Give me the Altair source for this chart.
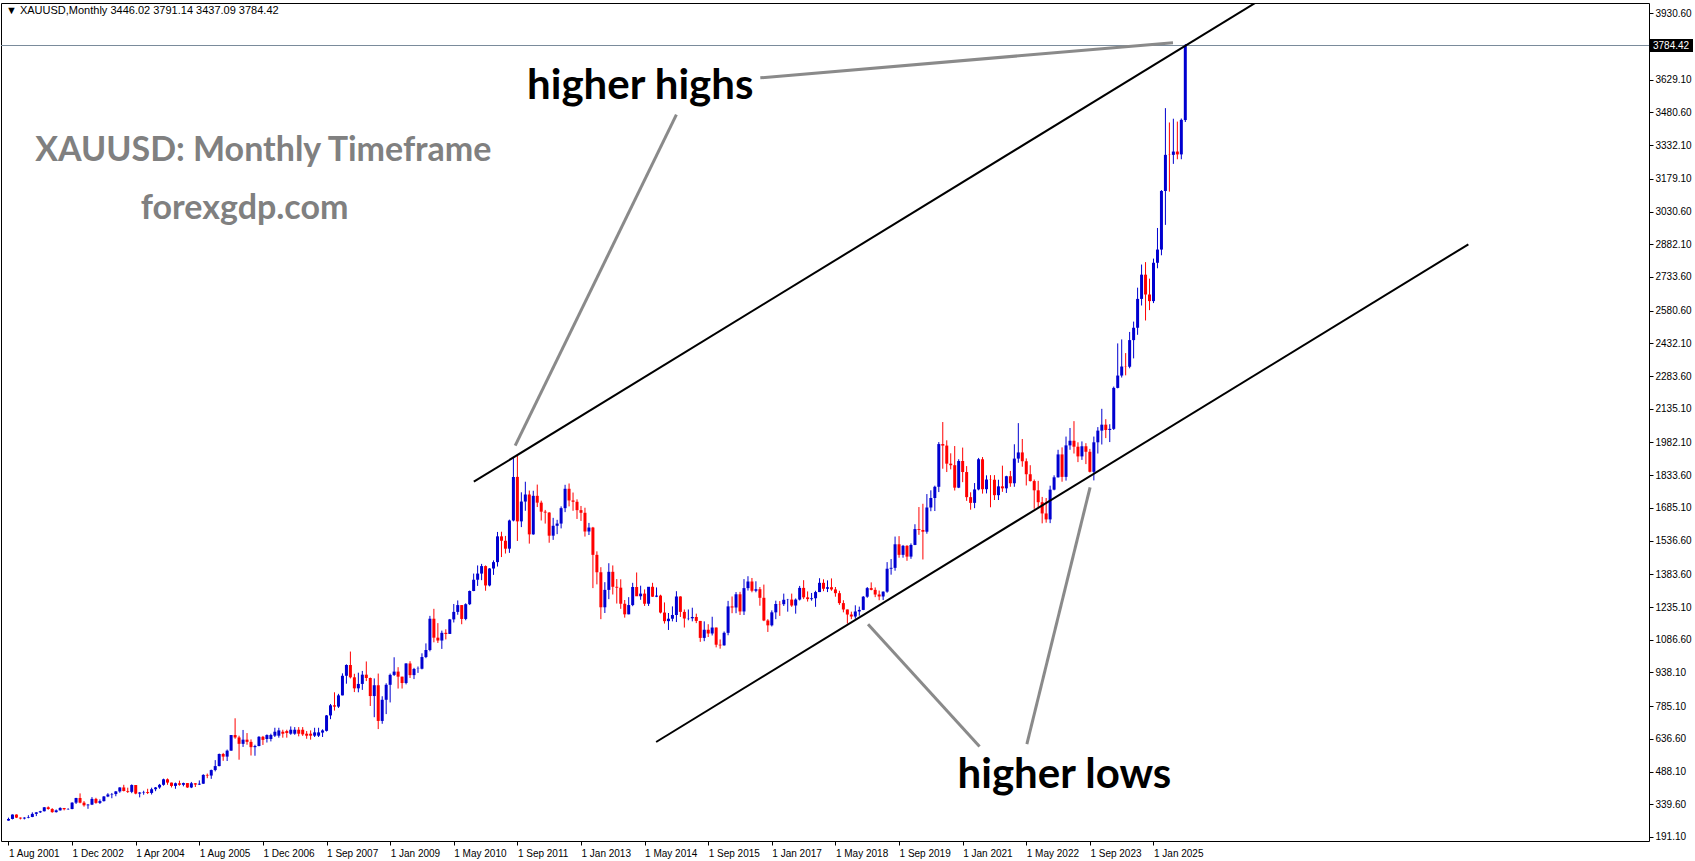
import altair as alt
import pandas as pd

# ---------------- data (monthly XAUUSD bars, bar index 0 = Aug 2001) ----------------
opens = [
    265.5, 273, 293, 279, 275,
    279, 282, 296, 303, 308, 326, 318, 304, 312, 323, 317, 318,
    347, 368, 347, 335, 338, 364, 346, 354, 375, 384, 386, 398,
    416, 400, 396, 427, 388, 393, 395, 391, 408, 416, 428, 453,
    438, 423, 435, 428, 436, 416, 435, 429, 433, 473, 470, 495,
    513, 568, 556, 583, 654, 643, 614, 633, 623, 599, 604, 646,
    636, 636, 651, 651, 669, 672, 660, 660, 678, 678, 660, 660, 651, 651, 665,
    673, 743, 789, 783,
    834, 923, 972, 916, 866, 886, 928, 913, 831, 880, 718, 814,
    882, 927, 942, 919, 890, 979, 926, 954, 955, 1008, 1040, 1182,
    1096, 1083, 1118, 1113, 1179, 1213, 1244, 1181, 1248, 1308, 1359, 1387,
    1421, 1333, 1410, 1439, 1556, 1536, 1500, 1628, 1826, 1624, 1714, 1746,
    1565, 1740, 1709, 1668, 1664, 1559, 1604, 1614, 1684, 1772, 1719, 1713,
    1675, 1663, 1578, 1596, 1472, 1393, 1234, 1313, 1395, 1327, 1323, 1250,
    1202, 1244, 1326, 1284, 1296, 1250, 1327, 1282, 1287, 1210, 1171, 1182,
    1199, 1283, 1213, 1183, 1184, 1190, 1172, 1095, 1132, 1115, 1142, 1064,
    1061, 1118, 1238, 1233, 1293, 1215, 1321, 1351, 1309, 1316, 1277, 1174,
    1152, 1211, 1249, 1248, 1268, 1269, 1242, 1269, 1322, 1279, 1271, 1275,
    1303, 1345, 1318, 1325, 1315, 1298, 1253, 1224, 1201, 1192, 1215, 1222,
    1282, 1321, 1313, 1292, 1283, 1305, 1409, 1413, 1520, 1472, 1513, 1464,
    1517, 1589, 1585, 1577, 1687, 1730, 1781, 1975, 1968, 1886, 1879, 1777,
    1898, 1848, 1734, 1708, 1769, 1906, 1770, 1814, 1813, 1743, 1783, 1774,
    1829, 1797, 1909, 1937, 1897, 1838, 1807, 1765, 1711, 1660, 1633, 1768,
    1824, 1928, 1826, 1969, 1990, 1963, 1919, 1965, 1940, 1849, 1983, 2036,
    2063, 2039, 2044, 2230, 2286, 2327, 2326, 2447, 2503, 2634, 2744, 2654,
    2624, 2798, 2858, 3124, 3289, 3288, 3303, 3290, 3446.02,
]
highs = [
    279, 293.5, 294, 280, 281,
    290, 303, 304, 310, 327, 330, 322, 316, 326, 323, 322, 349,
    369, 389, 354, 341, 372, 369, 362, 377, 390, 391, 400, 417,
    428, 415, 430, 427, 395, 401, 410, 415, 418, 432, 456, 457,
    438, 438, 447, 438, 436, 441, 436, 448, 476, 479, 497, 540,
    570, 573, 588, 654, 730, 651, 677, 663, 634, 610, 649, 650,
    657, 660, 687, 687, 678, 678, 693, 690, 690, 690, 672, 675, 687, 687, 680,
    745, 795, 848, 841,
    934, 975, 1033, 932, 937, 945, 988, 915, 911, 933, 830, 889,
    933, 1007, 962, 919, 980, 989, 959, 965, 1025, 1070, 1195, 1227,
    1162, 1128, 1134, 1181, 1249, 1265, 1244, 1252, 1310, 1387, 1424, 1431,
    1424, 1412, 1447, 1576, 1577, 1558, 1632, 1912, 1921, 1756, 1804, 1764,
    1763, 1791, 1718, 1676, 1666, 1640, 1631, 1692, 1790, 1796, 1755, 1724,
    1694, 1686, 1617, 1599, 1488, 1416, 1348, 1434, 1424, 1362, 1361, 1267,
    1280, 1345, 1392, 1332, 1315, 1326, 1345, 1324, 1291, 1256, 1208, 1238,
    1307, 1284, 1224, 1224, 1232, 1205, 1172, 1170, 1157, 1191, 1142, 1088,
    1124, 1263, 1283, 1303, 1304, 1362, 1375, 1367, 1352, 1326, 1337, 1180,
    1220, 1264, 1262, 1296, 1272, 1296, 1274, 1331, 1357, 1306, 1299, 1309,
    1366, 1361, 1356, 1365, 1326, 1309, 1266, 1224, 1214, 1243, 1237, 1285,
    1326, 1347, 1324, 1310, 1306, 1439, 1453, 1555, 1557, 1517, 1516, 1524,
    1611, 1689, 1704, 1748, 1765, 1786, 1984, 2075, 1992, 1933, 1966, 1906,
    1959, 1875, 1756, 1798, 1912, 1916, 1833, 1834, 1834, 1813, 1877, 1831,
    1853, 1974, 2070, 1998, 1910, 1879, 1814, 1808, 1735, 1730, 1786, 1833,
    1949, 1960, 2009, 2048, 2079, 1983, 1987, 1979, 1953, 2009, 2052, 2135,
    2088, 2065, 2236, 2432, 2450, 2388, 2484, 2531, 2685, 2790, 2801, 2726,
    2817, 2956, 3128, 3500, 3435, 3452, 3439, 3453, 3791.14,
]
lows = [
    265, 271, 277, 271, 271,
    276, 281, 286, 300, 307, 315, 301, 302, 311, 312, 314, 317,
    341, 344, 329, 319, 336, 342, 341, 352, 372, 367, 376, 392,
    398, 391, 390, 385, 371, 383, 386, 384, 399, 410, 424, 428,
    416, 410, 424, 421, 414, 413, 418, 427, 432, 458, 455, 489,
    512, 537, 536, 583, 637, 542, 600, 610, 561, 560, 603, 609,
    620, 625, 645, 642, 642, 642, 655, 655, 648, 650, 637, 633, 645, 645, 645,
    670, 726, 765, 777,
    834, 887, 911, 849, 848, 859, 899, 786, 735, 681, 705, 749,
    802, 922, 865, 865, 884, 913, 908, 936, 952, 1003, 1034, 1075,
    1072, 1045, 1088, 1113, 1165, 1200, 1157, 1175, 1244, 1307, 1331, 1357,
    1309, 1329, 1381, 1419, 1462, 1478, 1481, 1624, 1535, 1598, 1672, 1523,
    1563, 1689, 1628, 1614, 1527, 1540, 1566, 1592, 1666, 1692, 1672, 1635,
    1626, 1555, 1562, 1321, 1338, 1180, 1208, 1271, 1292, 1251, 1227, 1187,
    1202, 1239, 1285, 1268, 1240, 1240, 1281, 1280, 1206, 1160, 1131, 1170,
    1167, 1190, 1142, 1175, 1170, 1162, 1077, 1080, 1099, 1106, 1052, 1046,
    1060, 1107, 1207, 1207, 1199, 1199, 1310, 1302, 1302, 1241, 1171, 1122,
    1147, 1180, 1195, 1240, 1214, 1236, 1205, 1265, 1271, 1260, 1264, 1236,
    1303, 1307, 1303, 1309, 1282, 1245, 1211, 1160, 1180, 1182, 1196, 1221,
    1277, 1311, 1280, 1266, 1267, 1300, 1382, 1400, 1459, 1459, 1445, 1454,
    1516, 1563, 1451, 1568, 1670, 1671, 1757, 1863, 1848, 1860, 1764, 1775,
    1802, 1717, 1677, 1684, 1765, 1750, 1751, 1688, 1721, 1721, 1758, 1753,
    1781, 1781, 1890, 1872, 1787, 1805, 1681, 1688, 1615, 1618, 1616, 1765,
    1823, 1804, 1809, 1949, 1932, 1893, 1903, 1884, 1846, 1810, 1932, 1973,
    2002, 1984, 2039, 2228, 2277, 2287, 2319, 2364, 2471, 2604, 2536, 2583,
    2615, 2773, 2832, 2970, 3121, 3247, 3268, 3268, 3437.09,
]
closes = [
    273, 293, 279, 275, 279,
    282, 296, 303, 308, 326, 318, 304, 312, 323, 317, 318, 347,
    368, 347, 335, 338, 364, 346, 354, 375, 384, 386, 398, 416,
    400, 396, 427, 388, 393, 395, 391, 408, 416, 428, 453, 438,
    423, 435, 428, 436, 416, 435, 429, 433, 473, 470, 495, 513,
    568, 556, 583, 654, 643, 614, 633, 623, 599, 604, 646, 632,
    654, 654, 669, 675, 660, 663, 678, 678, 660, 657, 651, 651, 666, 666, 675,
    743, 789, 783, 834,
    923, 972, 916, 866, 886, 928, 913, 831, 880, 718, 814, 882,
    927, 942, 919, 890, 979, 926, 954, 955, 1008, 1040, 1182, 1096,
    1083, 1118, 1113, 1179, 1213, 1244, 1181, 1248, 1308, 1359, 1387, 1421,
    1333, 1410, 1439, 1556, 1536, 1500, 1628, 1826, 1624, 1714, 1746, 1565,
    1740, 1709, 1668, 1664, 1559, 1604, 1614, 1684, 1772, 1719, 1713, 1675,
    1663, 1578, 1596, 1472, 1393, 1234, 1313, 1395, 1327, 1323, 1250, 1202,
    1244, 1326, 1284, 1296, 1250, 1327, 1282, 1287, 1210, 1171, 1182, 1199,
    1283, 1213, 1183, 1184, 1190, 1172, 1095, 1132, 1115, 1142, 1064, 1061,
    1118, 1238, 1233, 1293, 1215, 1321, 1351, 1309, 1316, 1277, 1174, 1152,
    1211, 1249, 1248, 1268, 1269, 1242, 1269, 1322, 1279, 1271, 1275, 1303,
    1345, 1318, 1325, 1315, 1298, 1253, 1224, 1201, 1192, 1215, 1222, 1282,
    1321, 1313, 1292, 1283, 1305, 1409, 1413, 1520, 1472, 1513, 1464, 1517,
    1589, 1585, 1577, 1687, 1730, 1781, 1975, 1968, 1886, 1879, 1777, 1898,
    1848, 1734, 1708, 1769, 1906, 1770, 1814, 1813, 1743, 1783, 1774, 1829,
    1797, 1909, 1937, 1897, 1838, 1807, 1765, 1711, 1660, 1633, 1768, 1824,
    1928, 1826, 1969, 1990, 1963, 1919, 1965, 1940, 1849, 1983, 2036, 2063,
    2039, 2044, 2230, 2286, 2327, 2326, 2447, 2503, 2634, 2744, 2654, 2624,
    2798, 2858, 3124, 3288, 3288, 3303, 3290, 3447, 3784.42,
]

x_tick_labels = [
    "1 Aug 2001", "1 Dec 2002", "1 Apr 2004", "1 Aug 2005", "1 Dec 2006",
    "1 Sep 2007", "1 Jan 2009", "1 May 2010", "1 Sep 2011", "1 Jan 2013",
    "1 May 2014", "1 Sep 2015", "1 Jan 2017", "1 May 2018", "1 Sep 2019",
    "1 Jan 2021", "1 May 2022", "1 Sep 2023", "1 Jan 2025",
]
x_tick_bars = [16 * k for k in range(len(x_tick_labels))]
y_tick_values = [
    3930.60, 3629.10, 3480.60, 3332.10, 3179.10, 3030.60, 2882.10, 2733.60,
    2580.60, 2432.10, 2283.60, 2135.10, 1982.10, 1833.60, 1685.10, 1536.60,
    1383.60, 1235.10, 1086.60, 938.10, 785.10, 636.60, 488.10, 339.60, 191.10,
]

last_price = 3784.42
header = "\u25BC XAUUSD,Monthly  3446.02 3791.14 3437.09 3784.42"

# channel lines (bar index, price)
channel_start_bar = [117.05, 162.9]
channel_start_price = [1804.0, 622.4]
channel_end_bar = [320.0, 367.2]
channel_end_price = [4048.6, 2881.9]

# gray pointer lines (bar index, price)
ptr_start_bar = [168.0, 189.1, 216.2, 272.05]
ptr_start_price = [3470.7, 3637.8, 1156.7, 1778.7]
ptr_end_bar = [127.45, 292.9, 244.25, 256.15]
ptr_end_price = [1967.5, 3797.2, 602.3, 612.3]

# annotations
ann_text = ["higher highs", "higher lows", "XAUUSD: Monthly Timeframe", "forexgdp.com"]
ann_bar = [158.9, 265.6, 64.1, 59.4]
ann_price = [3541.6, 415.7, 3260.0, 2997.0]
ann_color = ["black", "black", "gray", "gray"]

# ---------------- build tables ----------------
n = len(closes)
candles = pd.DataFrame({
    "bar": list(range(n)),
    "open": opens, "high": highs, "low": lows, "close": closes,
})
candles["dir"] = ["up" if c >= o else "down" for o, c in zip(opens, closes)]

channels = pd.DataFrame({"bar": channel_start_bar, "price": channel_start_price,
                         "bar2": channel_end_bar, "price2": channel_end_price})
pointers = pd.DataFrame({"bar": ptr_start_bar, "price": ptr_start_price,
                         "bar2": ptr_end_bar, "price2": ptr_end_price})
ann = pd.DataFrame({"text": ann_text, "bar": ann_bar, "price": ann_price, "c": ann_color})
last_df = pd.DataFrame({"price": [last_price], "label": [f"{last_price:.2f}"]})
header_df = pd.DataFrame({"text": [header]})

# ---------------- scales / axes ----------------
PW, PH = 1648, 838
X_DOMAIN = [-0.625, -0.625 + PW / 4.0]
Y_DOMAIN = [172.9, 3977.4]
AXFONT = "Liberation Sans"

label_js = "[" + ",".join("'" + s + "'" for s in x_tick_labels) + "]"
x_axis = alt.Axis(values=x_tick_bars, labelExpr=label_js + "[round(datum.value/16)]",
                  grid=False, domain=False, tickSize=4, tickColor="black",
                  labelAlign="left", labelBaseline="top", labelPadding=3,
                  labelFont=AXFONT, labelFontSize=10, labelColor="black",
                  labelOverlap=False, labelBound=False, labelFlush=False, title=None)
y_axis = alt.Axis(values=y_tick_values, format=".2f", orient="right", grid=False,
                  domain=False, tickSize=4, tickColor="black", labelPadding=2,
                  labelFont=AXFONT, labelFontSize=10, labelColor="black",
                  labelOverlap=False, labelBound=False, labelFlush=False, title=None)
xs = alt.Scale(domain=X_DOMAIN, nice=False, zero=False)
ys = alt.Scale(domain=Y_DOMAIN, nice=False, zero=False)


def X(f):
    return alt.X(f"{f}:Q", scale=xs, axis=x_axis)


def Y(f):
    return alt.Y(f"{f}:Q", scale=ys, axis=y_axis)


color = alt.Color("dir:N", scale=alt.Scale(domain=["up", "down"], range=["#0000d0", "#ff0000"]),
                  legend=None)

base = alt.Chart(candles)
wicks = base.mark_rule(strokeWidth=1).encode(x=X("bar"), y=Y("low"), y2="high", color=color)
bodies = base.mark_bar(size=3).encode(x=X("bar"), y=Y("open"), y2="close", color=color)

price_line = alt.Chart(last_df).mark_rule(color="#7a8b9b", strokeWidth=1).encode(y=Y("price"))

chan = alt.Chart(channels).mark_rule(color="black", strokeWidth=2, clip=True).encode(
    x=X("bar"), y=Y("price"), x2="bar2", y2="price2")
ptr = alt.Chart(pointers).mark_rule(color="#8a8a8a", strokeWidth=3, clip=True).encode(
    x=X("bar"), y=Y("price"), x2="bar2", y2="price2")

ann_big = alt.Chart(ann).transform_filter("datum.c == 'black'").mark_text(
    font="Lato", fontWeight="bold", fontSize=42, align="center", baseline="alphabetic", color="black"
).encode(x=X("bar"), y=Y("price"), text="text:N")
ann_gray = alt.Chart(ann).transform_filter("datum.c == 'gray'").mark_text(
    font="Lato", fontWeight="bold", fontSize=34, align="center", baseline="alphabetic", color="#808080"
).encode(x=X("bar"), y=Y("price"), text="text:N")

hdr = alt.Chart(header_df).mark_text(font=AXFONT, fontSize=11, align="left", baseline="middle",
                                      color="black").encode(
    x=alt.value(5), y=alt.value(8), text="text:N")

box = alt.Chart(last_df).mark_rect(color="black", height=13, clip=False).encode(
    x=alt.value(PW + 1), x2=alt.value(PW + 44), y=Y("price"))
box_txt = alt.Chart(last_df).mark_text(font=AXFONT, fontSize=10, align="left", baseline="middle",
                                       color="white", clip=False).encode(
    x=alt.value(PW + 4), y=Y("price"), text="label:N")

chart = alt.layer(wicks, bodies, price_line, chan, ptr, ann_big, ann_gray, hdr, box, box_txt).properties(
    width=PW, height=PH,
    padding={"left": 1, "top": 3, "right": 46, "bottom": 20},
    autosize=alt.AutoSizeParams(type="none"),
    background="white",
).configure_view(stroke="black", strokeWidth=1)

chart.save("out.html", embed_options={"renderer": "svg", "actions": False})
